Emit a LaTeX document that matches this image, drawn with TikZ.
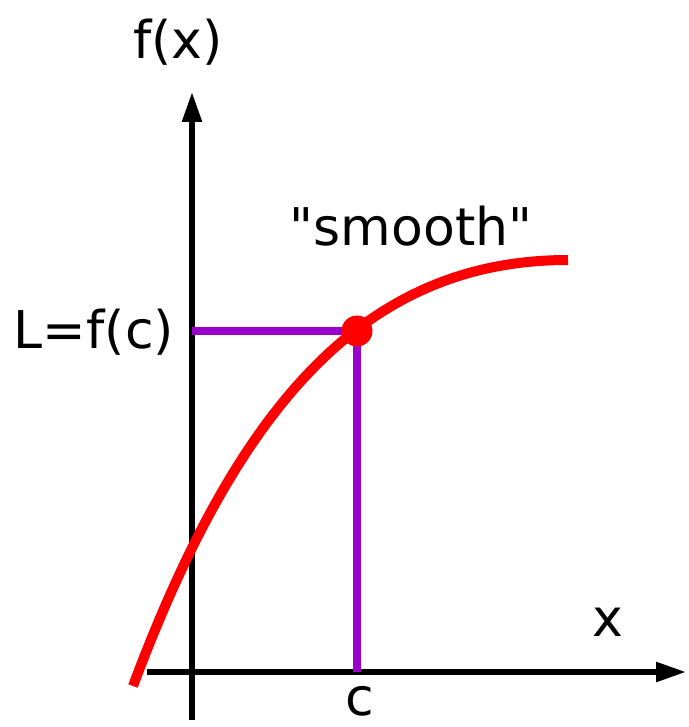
\documentclass[tikz,border=0pt]{standalone}
\usepackage{fontspec}
\setmainfont{DejaVu Sans}
\newfontfamily\plainfont{DejaVu Sans}
\usetikzlibrary{arrows.meta}
\begin{document}
\begin{tikzpicture}[x=1pt,y=-1pt,
  axis/.style={line width=5.5pt,black,-{Triangle[length=30pt,width=19pt]}},
  guide/.style={line width=7.5pt,color={rgb,255:red,153;green,0;blue,204}},
  curve/.style={line width=10pt,red},
  lbl/.style={font=\plainfont\fontsize{52}{60}\selectfont,inner sep=0pt}]
\useasboundingbox (0,0) rectangle (688,727);
% axes
\coordinate (yb) at (192,720);
\coordinate (yt) at (192,92);
\coordinate (xl) at (147,672);
\coordinate (xr) at (686,672);
\draw[axis] (yb) -- (yt);
\draw[axis] (xl) -- (xr);
% point
\coordinate (Ly) at (192,331);
\coordinate (cx) at (357,672);
\coordinate (Pc) at (357,331);
\draw[guide] (Ly) -- (Pc) -- (cx);
% curve
\coordinate (c0) at (133,686);
\coordinate (c3) at (568,260);
\draw[curve] (c0) .. controls (240,400) and (368,260) .. (c3);
\node[circle,fill=red,minimum size=31pt,inner sep=0pt] (P) at (Pc) {};
% labels
\node[lbl] (fx) at (178,42) {f(x)};
\node[lbl] (sm) at (411,226) {"smooth"};
\node[lbl] (L) at (94,332) {L=f(c)};
\node[lbl] (x) at (608,622) {x};
\node[lbl,anchor=base,text depth=0pt] (c) at (360,715) {c};
\end{tikzpicture}
\end{document}
